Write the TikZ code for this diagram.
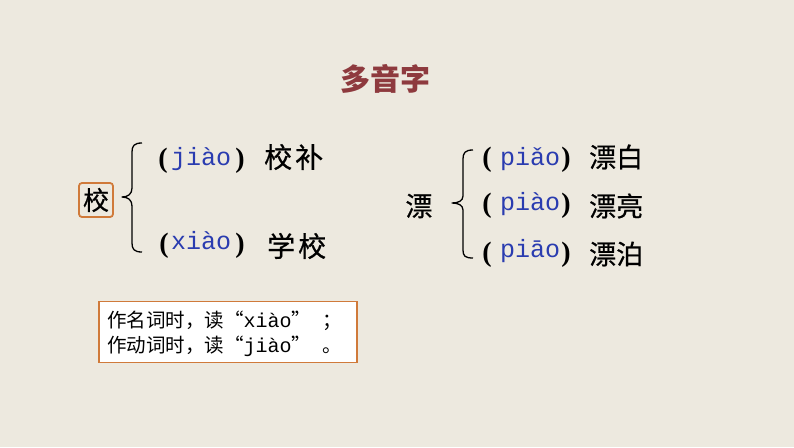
\documentclass[tikz,border=0pt]{standalone}
\usepackage{fontspec}
\setmainfont{Liberation Serif}
\newfontfamily\cjk[FakeBold=0.6]{Noto Sans CJK SC}
\newfontfamily\cjkplain{Noto Sans CJK SC}
\newfontfamily\pyfont{Liberation Mono}
\newfontfamily\parfont{Liberation Serif}
\definecolor{bgc}{HTML}{EDE9DF}
\definecolor{titlec}{HTML}{8E3A3E}
\definecolor{pyc}{HTML}{2A3CB0}
\definecolor{boxc}{HTML}{D07A3A}
\tikzset{
  hz/.style={inner sep=0pt, font=\cjk\fontsize{27}{30}\selectfont},
  hzl/.style={inner sep=0pt, font=\cjk\fontsize{28}{30}\selectfont},
  py/.style={inner sep=0pt, anchor=base west, text=pyc, font=\pyfont\fontsize{25}{28}\selectfont},
  par/.style={inner sep=0pt, font=\parfont\bfseries\fontsize{28}{30}\selectfont},
  bracepath/.style={line width=1.3pt, line join=round},
  notetext/.style={inner sep=0pt, anchor=west, font=\cjkplain\fontsize{19.5}{22}\selectfont},
}
\newcommand{\myLq}{\makebox[1em][r]{“}}
\newcommand{\myRq}{\makebox[1em][l]{”}}
\begin{document}
\begin{tikzpicture}[x=1pt,y=-1pt]
\fill[bgc] (0,0) rectangle (794,447);
\useasboundingbox (0,0) rectangle (794,447);
% title
\node[inner sep=0pt, text=titlec, font=\cjkplain\bfseries\fontsize{30}{32}\selectfont] (title) at (385,79) {多音字};
% left group
\node[inner sep=0pt, draw=boxc, line width=1.8pt, rounded corners=3pt, minimum width=34pt, minimum height=34pt, font=\cjk\fontsize{26}{30}\selectfont] (xiao) at (96,200) {校};
\draw[bracepath] (142,143) .. controls (134,143) and (132,146) .. (132,152) -- (132,188) .. controls (132,194) and (128,197) .. (122,197) .. controls (128,197) and (132,200) .. (132,206) -- (132,243) .. controls (132,249) and (134,252) .. (142,252);
\node[par] (lp1) at (163,161) {(};
\node[py] (py1) at (171,165) {jiào};
\node[par] (rp1) at (240,161) {)};
\node[hzl, anchor=west] (w1) at (264,157) {校\hspace{3pt}补};
\node[par] (lp2) at (164,246) {(};
\node[py] (py2) at (171,249) {xiào};
\node[par] (rp2) at (240,246) {)};
\node[hzl, anchor=west] (w2) at (267,246) {学\hspace{3pt}校};
% right group
\node[hz] (piao) at (419,206) {漂};
\draw[bracepath] (473,150) .. controls (465,150) and (463,153) .. (463,159) -- (463,196) .. controls (463,201) and (458,203) .. (452,203) .. controls (458,203) and (463,205) .. (463,210) -- (463,250) .. controls (463,256) and (465,258) .. (473,258);
\node[par] (lp3) at (487,160) {(};
\node[py] (py3) at (500,165) {piǎo};
\node[par] (rp3) at (566,160) {)};
\node[hz, anchor=west] (w3) at (589,157) {漂白};
\node[par] (lp4) at (487,206) {(};
\node[py] (py4) at (500,210) {piào};
\node[par] (rp4) at (566,206) {)};
\node[hz, anchor=west] (w4) at (589,206) {漂亮};
\node[par] (lp5) at (487,255) {(};
\node[py] (py5) at (500,257) {piāo};
\node[par] (rp5) at (566,255) {)};
\node[hz, anchor=west] (w5) at (589,254) {漂泊};
% note box
\node[draw=boxc, fill=white, line width=1.8pt, minimum width=258pt, minimum height=61pt, inner sep=0pt] (note) at (228,332) {};
\node[notetext] (n1) at (107,321) {作名词时，读\myLq{\pyfont\fontsize{20}{22}\selectfont xiào}\myRq\hspace*{0.6em}；};
\node[notetext] (n2) at (107,346) {作动词时，读\myLq{\pyfont\fontsize{20}{22}\selectfont jiào}\myRq\hspace*{0.6em}。};
\end{tikzpicture}
\end{document}
